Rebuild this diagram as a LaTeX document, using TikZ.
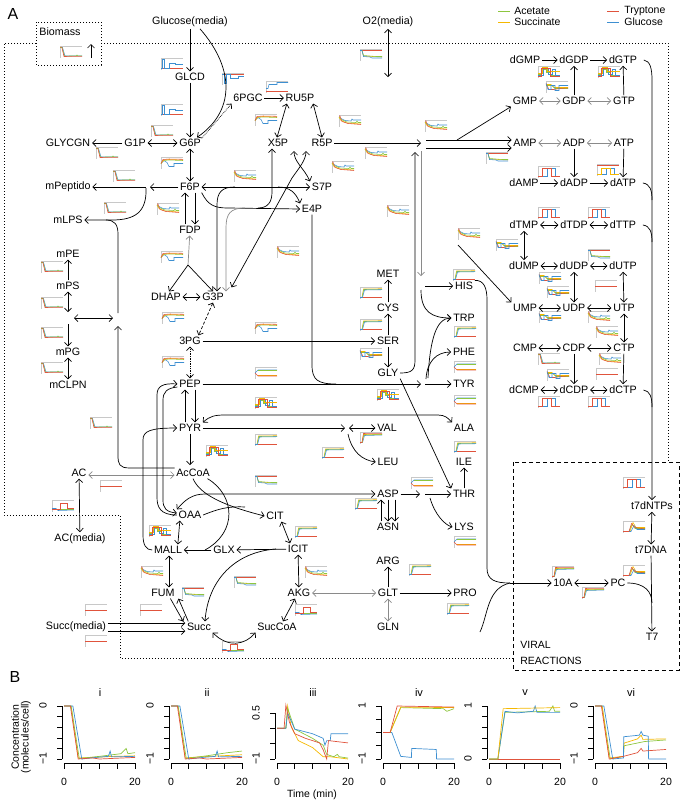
\documentclass[tikz,border=0pt]{standalone}
\usepackage{fontspec}
\setmainfont{Liberation Sans}
\usetikzlibrary{arrows.meta}
\definecolor{cG}{HTML}{8DC63F}
\definecolor{cY}{HTML}{F5B800}
\definecolor{cR}{HTML}{E0533C}
\definecolor{cB}{HTML}{3D8FD1}
\definecolor{fr}{HTML}{C8C8C8}
\definecolor{gar}{HTML}{8A8A8A}
% mini plot types (local frame 22 x 11, y down)
\newcommand{\mptdecay}{%
 \draw[cB] (0,1) -- (2.5,1) -- (5,9.5) -- (22,9.3);
 \draw[cG] (0,1) -- (2,1) -- (4.5,9.6) -- (16,9.4) -- (17,8.5) -- (18,9.4) -- (22,9.4);
 \draw[cR] (0,0.6) -- (1.8,0.6) -- (4,10) -- (22,9.8);}
\newcommand{\mptdecaym}{%
 \draw[cB] (0,1.5) -- (2,3) -- (6,5) -- (12,5.5) -- (13,3.5) -- (14,4.5) -- (22,4.5);
 \draw[cG] (0,1.5) -- (2,4) -- (8,6.5) -- (17,7) -- (18,5.5) -- (19,7) -- (22,7);
 \draw[cY] (0,1.5) -- (2,5) -- (8,7.5) -- (22,8.5);
 \draw[cR] (0,0.5) -- (1,0.5) -- (3,6) -- (9,8) -- (22,9);}
\newcommand{\mptrise}{%
 \draw[cR] (0,10) -- (22,10);
 \draw[cY] (0,10) -- (2,10) -- (3.5,1.5) -- (22,1.2);
 \draw[cG] (0,10) -- (2,10) -- (3.8,2) -- (22,1.8);
 \draw[cB] (0,10) -- (2.5,10) -- (4.5,2.5) -- (22,2.2);}
\newcommand{\mptrisea}{%
 \draw[cB] (0,10) -- (2.5,10) -- (4.5,3) -- (22,2.5);
 \draw[cY] (0,10) -- (2,10) -- (3.5,2) -- (22,1.8);
 \draw[cG] (0,10) -- (2,10) -- (3.8,2.5) -- (22,2);
 \draw[cR] (0,10) -- (2,10) -- (3.5,1) -- (22,1.2);}
\newcommand{\mptpulse}{%
 \draw[cB] (0,10) -- (9,10) -- (9,2) -- (17,2) -- (17,10) -- (22,10);
 \draw[cR] (0,10) -- (4,10) -- (4,2) -- (13,2) -- (13,10) -- (22,10);}
\newcommand{\mptpulsetop}{%
 \draw[cR] (0,1) -- (22,1);
 \draw[cB] (0,10) -- (9,10) -- (9,4) -- (17,4) -- (17,10) -- (22,10);
 \draw[cY] (0,10) -- (4,10) -- (4,4) -- (13,4) -- (13,10) -- (22,10);}
\newcommand{\mptpulsem}{%
 \draw[cG] (0,8) -- (3,8) -- (3,3) -- (8,3) -- (8,6) -- (12,6) -- (12,9) -- (22,9);
 \draw[cB] (0,9) -- (5,9) -- (5,2) -- (10,2) -- (10,8) -- (14,8) -- (14,3) -- (17,3) -- (17,9) -- (22,9);
 \draw[cY] (0,7) -- (4,7) -- (4,1) -- (9,1) -- (9,5) -- (22,5);
 \draw[cR] (0,10) -- (3,10) -- (3,1.5) -- (12,1.5) -- (12,10) -- (22,10);}
\newcommand{\mptpulseone}{%
 \draw[cG] (0,9) -- (22,9);
 \draw[cB] (0,8) -- (4,8) -- (6,10) -- (22,9.5);
 \draw[cR] (0,9) -- (8,9) -- (8,3) -- (15,3) -- (15,8) -- (22,8);}
\newcommand{\mptflat}{\draw[cR] (0,5.5) -- (22,5.5);}
\newcommand{\mptglc}{%
 \draw[cR] (0,10) -- (22,10);
 \draw[cB] (0,10) -- (1.5,10) -- (1.5,1) -- (3.5,1) -- (3.5,10) -- (8,10) -- (8,5) -- (14,5) -- (14,6) -- (22,6);}
\newcommand{\mptbluedn}{%
 \draw[cR] (0,1) -- (22,1);
 \draw[cB] (0,1) -- (2,1) -- (2,10) -- (4,10) -- (4,1) -- (8,1) -- (8,5) -- (16,5) -- (16,3) -- (22,3);}
\newcommand{\mptblue}{%
 \draw[cR] (0,10) -- (22,10);
 \draw[cB] (0,7) -- (2,7) -- (3,3) -- (11,3) -- (11,1) -- (22,1);}
\newcommand{\mptbump}{%
 \draw[cB] (0,6) -- (3,3) -- (6,5) -- (8,9) -- (13,9) -- (13,6) -- (22,6);
 \draw[cG] (0,6) -- (2,3) -- (8,2.5) -- (22,3);
 \draw[cY] (0,6) -- (3,2.5) -- (8,2) -- (22,2.5);
 \draw[cR] (0,6) -- (2,2) -- (8,1.5) -- (22,1.8);}
\newcommand{\mpttop}{%
 \draw[cR] (0,1) -- (22,1);
 \draw[cY] (2,1) -- (3.5,6.5) -- (22,7.5);
 \draw[cG] (2,1) -- (3.5,6) -- (16,7) -- (22,7);
 \draw[cB] (0,1) -- (2,1) -- (3.5,7) -- (10,7.5) -- (12,8.5) -- (22,8.5);}
\newcommand{\mptsplit}{%
 \draw[cB] (0,5.5) -- (3,2.5) -- (22,2.5);
 \draw[cG] (3,3) -- (22,3);
 \draw[cY] (3,7.5) -- (22,7.5);
 \draw[cR] (0,5.5) -- (3,8.5) -- (22,8.5);}
\newcommand{\mptjag}{%
 \draw[cY] (0,3) -- (5,3) -- (8,6) -- (22,6);
 \draw[cG] (0,4) -- (6,4) -- (9,7) -- (22,7);
 \draw[cR] (0,2) -- (3,8) -- (8,8) -- (14,7) -- (22,6.5);
 \draw[cB] (0,2) -- (2,8) -- (5,8) -- (5,4) -- (9,4) -- (9,9) -- (13,9) -- (13,4) -- (22,4);}
\newcommand{\mptspike}{%
 \draw[cG] (0,10) -- (6,10) -- (9,3) -- (12,7) -- (22,7);
 \draw[cY] (0,10) -- (7,10) -- (10,1) -- (13,6) -- (22,6);
 \draw[cB] (0,10) -- (8,10) -- (11,4) -- (14,8) -- (22,8);
 \draw[cR] (0,10) -- (6,10) -- (8.5,2) -- (12,6) -- (22,7.5);}
\newcommand{\mpl}[3]{\begin{scope}[shift={(#1-11,#2-5.5)},line width=0.55pt]
 \draw[fr,line width=0.45pt] (0,11) -- (0,0) -- (22,0);
 \csname mpt#3\endcsname
 \end{scope}}
% panel B axes: #1 axis x, #2 top y, #3 intervals, #4 top label, #5 bottom label, #6 title
\newcommand{\bax}[6]{%
 \draw[line width=0.6pt] (#1,#2) -- (#1,759);
 \foreach \k in {0,...,#3} \draw[line width=0.6pt] (#1,{#2+(759-#2)*\k/#3}) -- (#1-5,{#2+(759-#2)*\k/#3});
 \draw[line width=0.6pt] (#1+2,763) -- (#1+73,763);
 \foreach \k in {0,...,4} \draw[line width=0.6pt] ({#1+2+71*\k/4},763) -- ({#1+2+71*\k/4},769);
 \node[bl] at (#1+2,782) {0}; \node[bl] at (#1+73,782) {20};
 \node[bl,rotate=90] at (#1-19,#2) {#4};
 \node[bl,rotate=90] at (#1-19,759) {#5};
 \node[bt] at (#1+38,693) {#6};}
\begin{document}
\begin{tikzpicture}[x=1pt,y=-1pt,line width=0.7pt,
  nd/.style={font=\fontsize{10.7}{12}\selectfont,inner sep=1.5pt},
  lg/.style={font=\fontsize{10.5}{11}\selectfont,inner sep=0pt,anchor=west},
  bl/.style={font=\fontsize{10.5}{12}\selectfont,inner sep=0pt},
  bt/.style={font=\fontsize{11}{12}\selectfont,inner sep=0pt},
  arr/.style={-{Straight Barb[length=3.5pt,width=7pt]}},
  darr/.style={{Straight Barb[length=3.5pt,width=7pt]}-{Straight Barb[length=3.5pt,width=7pt]}},
  garr/.style={arr,draw=gar},
  gdarr/.style={darr,draw=gar},
  dotb/.style={line width=0.7pt,dash pattern=on 0.8pt off 2.2pt}]
\useasboundingbox (0,0) rectangle (685,804);
% panel labels and legend
\node[font=\fontsize{16}{18}\selectfont] at (13,14) {A};
\node[font=\fontsize{16}{18}\selectfont] at (15,677) {B};
\draw[cG,line width=1pt] (498,11) -- (510,11); \node[lg] at (514,11) {Acetate};
\draw[cY,line width=1pt] (498,22) -- (510,22); \node[lg] at (514,22) {Succinate};
\draw[cR,line width=1pt] (607,11) -- (619,11); \node[lg] at (624,11) {Tryptone};
\draw[cB,line width=1pt] (607,22) -- (619,22); \node[lg] at (624,22) {Glucose};
% boundaries
\draw[dotb] (36,43) -- (4,43) -- (4,515) -- (120,515) -- (120,658) -- (513,658);
\draw[dotb] (101,43) -- (668,43) -- (668,462);
\draw[dotb] (36,22) rectangle (101,65);
\draw[line width=0.9pt,dash pattern=on 4pt off 3pt] (513,462) rectangle (679,670);
\node[lg,font=\fontsize{10.5}{11}\selectfont] at (520,645) {VIRAL};
\node[lg,font=\fontsize{10.5}{11}\selectfont] at (520,661) {REACTIONS};
% mini plots
\mpl{71}{52}{decay}
\mpl{172}{64}{glc}\mpl{172}{110}{glc}\mpl{233}{79}{bluedn}
\mpl{162}{131}{decay}\mpl{107}{153}{decay}\mpl{124}{176}{decay}
\mpl{172}{163}{bump}\mpl{115}{208}{decay}\mpl{168}{209}{decaym}
\mpl{172}{257}{bump}\mpl{52}{267}{decay}\mpl{277}{87}{blue}
\mpl{266}{120}{bump}\mpl{350}{121}{decaym}\mpl{371}{55}{top}
\mpl{376}{153}{decaym}\mpl{343}{167}{decaym}\mpl{245}{176}{decaym}
\mpl{398}{211}{decaym}\mpl{288}{252}{decaym}\mpl{436}{126}{decaym}
\mpl{549}{72}{pulsem}\mpl{609}{72}{pulsem}\mpl{557}{87}{jag}
\mpl{497}{158}{top}\mpl{549}{172}{pulse}\mpl{608}{170}{pulsetop}
\mpl{549}{213}{pulse}\mpl{599}{213}{pulse}\mpl{507}{245}{jag}
\mpl{599}{255}{top}\mpl{469}{234}{decaym}\mpl{550}{278}{jag}
\mpl{558}{292}{jag}\mpl{606}{286}{flat}\mpl{550}{317}{jag}
\mpl{599}{317}{decaym}\mpl{607}{332}{decaym}\mpl{549}{359}{decay}
\mpl{610}{359}{decaym}\mpl{558}{375}{jag}\mpl{607}{374}{flat}
\mpl{549}{402}{pulse}\mpl{599}{402}{pulse}\mpl{634}{483}{pulse}
\mpl{634}{527}{spike}\mpl{464}{275}{rise}\mpl{465}{332}{rise}
\mpl{465}{367}{split}\mpl{465}{401}{split}\mpl{465}{447}{rise}
\mpl{371}{293}{rise}\mpl{371}{325}{rise}\mpl{371}{354}{jag}
\mpl{266}{328}{bump}\mpl{266}{373}{split}\mpl{266}{403}{pulsem}
\mpl{266}{440}{rise}\mpl{371}{438}{risea}\mpl{333}{453}{rise}
\mpl{266}{481}{top}\mpl{366}{504}{rise}\mpl{422}{483}{split}
\mpl{388}{395}{pulsem}\mpl{306}{532}{rise}\mpl{316}{572}{decaym}
\mpl{245}{582}{top}\mpl{306}{610}{pulseone}\mpl{420}{570}{rise}
\mpl{458}{609}{rise}\mpl{233}{647}{pulseone}\mpl{465}{542}{split}
\mpl{563}{572}{risea}\mpl{593}{593}{risea}\mpl{634}{571}{spike}
\mpl{52}{303}{decay}\mpl{52}{333}{decay}\mpl{52}{368}{decay}
\mpl{173}{318}{bump}\mpl{173}{362}{bump}\mpl{101}{423}{decay}
\mpl{217}{451}{pulsem}\mpl{111}{486}{flat}\mpl{63}{506}{pulseone}
\mpl{160}{531}{pulsem}\mpl{152}{572}{decaym}\mpl{193}{593}{top}
\mpl{151}{610}{flat}\mpl{96}{610}{flat}\mpl{96}{641}{flat}
% nodes
\node[nd] at (60,32) {Biomass};
\node[nd] (Glc) at (190,22) {Glucose(media)};
\node[nd] (O2) at (388,22) {O2(media)};
\node[nd] (GLCD) at (190,77) {GLCD};
\node[nd] (G6P) at (190,143) {G6P};
\node[nd] (G1P) at (135,143) {G1P};
\node[nd] (GLYCGN) at (68,143) {GLYCGN};
\node[nd] (PGC) at (248,98) {6PGC};
\node[nd] (RU5P) at (300,98) {RU5P};
\node[nd] (X5P) at (278,143) {X5P};
\node[nd] (R5P) at (322,143) {R5P};
\node[nd] (F6P) at (190,187) {F6P};
\node[nd] (mPep) at (68,187) {mPeptido};
\node[nd] (mLPS) at (68,220) {mLPS};
\node[nd] (S7P) at (322,187) {S7P};
\node[nd] (E4P) at (312,209) {E4P};
\node[nd] (FDP) at (190,230) {FDP};
\node[nd] (mPE) at (68,254) {mPE};
\node[nd] (mPS) at (68,286) {mPS};
\node[nd] (DHAP) at (166,297) {DHAP};
\node[nd] (G3P) at (213,297) {G3P};
\node[nd] (PG3) at (190,341) {3PG};
\node[nd] (mPG) at (68,352) {mPG};
\node[nd] (mCLPN) at (68,385) {mCLPN};
\node[nd] (PEP) at (190,384) {PEP};
\node[nd] (PYR) at (190,428) {PYR};
\node[nd] (AcCoA) at (193,473) {AcCoA};
\node[nd] (AC) at (79,473) {AC};
\node[nd] (OAA) at (190,515) {OAA};
\node[nd] (ACm) at (80,539) {AC(media)};
\node[nd] (MALL) at (168,550) {MALL};
\node[nd] (GLX) at (224,550) {GLX};
\node[nd] (FUM) at (163,593) {FUM};
\node[nd] (Succ) at (199,627) {Succ};
\node[nd] (Succm) at (76,627) {Succ(media)};
\node[nd] (CIT) at (275,516) {CIT};
\node[nd] (ICIT) at (298,549) {ICIT};
\node[nd] (AKG) at (299,593) {AKG};
\node[nd] (SucCoA) at (277,627) {SucCoA};
\node[nd] (MET) at (388,274) {MET};
\node[nd] (CYS) at (388,308) {CYS};
\node[nd] (SER) at (388,341) {SER};
\node[nd] (GLY) at (388,373) {GLY};
\node[nd] (VAL) at (387,428) {VAL};
\node[nd] (LEU) at (388,462) {LEU};
\node[nd] (ASP) at (388,494) {ASP};
\node[nd] (ASN) at (388,527) {ASN};
\node[nd] (ARG) at (388,561) {ARG};
\node[nd] (GLT) at (388,593) {GLT};
\node[nd] (GLN) at (388,627) {GLN};
\node[nd] (PRO) at (465,593) {PRO};
\node[nd] (HIS) at (464,286) {HIS};
\node[nd] (TRP) at (464,318) {TRP};
\node[nd] (PHE) at (464,352) {PHE};
\node[nd] (TYR) at (464,384) {TYR};
\node[nd] (ALA) at (464,428) {ALA};
\node[nd] (ILE) at (464,462) {ILE};
\node[nd] (THR) at (464,494) {THR};
\node[nd] (LYS) at (464,527) {LYS};
\node[nd] (dGMP) at (525,60) {dGMP};
\node[nd] (dGDP) at (574,60) {dGDP};
\node[nd] (dGTP) at (623,60) {dGTP};
\node[nd] (GMP) at (525,101) {GMP};
\node[nd] (GDP) at (574,101) {GDP};
\node[nd] (GTP) at (624,101) {GTP};
\node[nd] (AMP) at (525,143) {AMP};
\node[nd] (ADP) at (574,143) {ADP};
\node[nd] (ATP) at (624,143) {ATP};
\node[nd] (dAMP) at (524,183) {dAMP};
\node[nd] (dADP) at (574,183) {dADP};
\node[nd] (dATP) at (623,183) {dATP};
\node[nd] (dTMP) at (524,225) {dTMP};
\node[nd] (dTDP) at (574,225) {dTDP};
\node[nd] (dTTP) at (623,225) {dTTP};
\node[nd] (dUMP) at (524,266) {dUMP};
\node[nd] (dUDP) at (574,266) {dUDP};
\node[nd] (dUTP) at (623,266) {dUTP};
\node[nd] (UMP) at (525,308) {UMP};
\node[nd] (UDP) at (574,308) {UDP};
\node[nd] (UTP) at (624,308) {UTP};
\node[nd] (CMP) at (525,348) {CMP};
\node[nd] (CDP) at (574,348) {CDP};
\node[nd] (CTP) at (624,348) {CTP};
\node[nd] (dCMP) at (524,390) {dCMP};
\node[nd] (dCDP) at (574,390) {dCDP};
\node[nd] (dCTP) at (623,390) {dCTP};
\node[nd] (t7dNTPs) at (652,506) {t7dNTPs};
\node[nd] (t7DNA) at (651,550) {t7DNA};
\node[nd] (A10) at (563,583) {10A};
\node[nd] (PC) at (618,583) {PC};
\node[nd] (T7) at (652,637) {T7};
% junction / free-end coordinates
\coordinate (bA) at (91,58); \coordinate (bB) at (91,44);
\coordinate (JF) at (188,265);
\coordinate (JR) at (421,143);
\coordinate (JT) at (425,384);
\coordinate (JL) at (68,318);
\coordinate (JV) at (510,583);
\coordinate (Jlow) at (480,632);
\coordinate (Jdiag) at (458,245);
% ---- edges: glycolysis / PPP
\draw[arr] (bA) -- (bB);
\draw[arr] (Glc) -- (GLCD);
\draw[arr] ([xshift=10pt]Glc.south) .. controls (236,70) and (234,112) .. ([xshift=7pt]G6P.north);
\draw[arr] (GLCD) -- (G6P);
\draw[darr] (O2) -- (388,77);
\draw[arr,densely dotted] (G6P.north east) -- (PGC.south west);
\draw[arr] (PGC) -- (RU5P);
\draw[darr] ([xshift=3pt]RU5P.south west) -- ([xshift=-1pt]X5P.north);
\draw[darr] ([xshift=-3pt]RU5P.south east) -- (R5P.north);
\draw[darr] (G6P) -- (G1P);
\draw[arr] (G1P) -- (GLYCGN);
\draw[darr] (G6P) -- (F6P);
\draw[arr] (F6P) -- (150,187);
\draw[arr] (146,187) -- (mPep);
\draw[arr] (146,188) .. controls (147,212) and (135,220) .. (112,220) -- (mLPS);
\draw (118,313) -- (118,234) .. controls (118,224) and (114,220) .. (106,220);
\draw[arr] ([xshift=5pt]F6P.south) -- ([xshift=5pt]FDP.north);
\draw[arr] ([xshift=-5pt]FDP.north) -- ([xshift=-5pt]F6P.south);
\draw[garr] (JF) -- (FDP);
\draw[arr] (JF) -- ([xshift=3pt]DHAP.north);
\draw[arr] (JF) -- (G3P.north);
\draw[darr] (DHAP) -- (G3P);
\draw[darr,densely dashed] (G3P.south) -- ([xshift=-4pt]PG3.north east);
\draw[darr,densely dotted] (PG3) -- (PEP);
\draw[arr] ([xshift=5pt]PEP.south) -- ([xshift=5pt]PYR.north);
\draw[arr] ([xshift=-5pt]PYR.north) -- ([xshift=-5pt]PEP.south);
\draw[arr] (PYR.south) -- (190,465);
% transketolase / transaldolase
\draw[darr] (F6P.east) -- (S7P.west |- F6P.east);
\draw[arr] (278,187) .. controls (290,187) and (296,193) .. (E4P.north west);
\draw[arr] (F6P.south east) .. controls (208,205) and (214,208) .. (228,208) -- (E4P.west);
\draw[arr] (258,208) .. controls (268,208) and (272,202) .. (272,192) -- ([xshift=-6pt]X5P.south);
\draw[arr] (235,187) .. controls (222,187) and (217,192) .. (217,205) -- ([xshift=4pt]G3P.north);
\draw[garr] (245,208) .. controls (230,208) and (226,214) .. (226,228) -- ([xshift=13pt]G3P.north);
\draw[darr] ([xshift=6pt,yshift=4pt]G3P.north east) -- (292,178) .. controls (299,168) and (306,160) .. (306,151);
\draw[darr] (294,151) .. controls (294,162) and (304,168) .. (S7P.north west);
% R5P to nucleotides and amino acids
\draw[arr] (R5P) -- (JR);
\draw[arr] (426,140) -- (AMP.west |- 0,140);
\draw[arr] (426,148) -- (AMP.west |- 0,148);
\draw[arr] (457,140) -- (GMP.south west);
\draw[garr] (421,151) -- (421,276);
\draw[arr] (GLY.east) .. controls (412,373) and (415,370) .. (415,360) -- (415,152);
\draw[arr] (425,286) -- (HIS);
\draw[arr] (421,290) .. controls (421,312) and (432,318) .. (TRP.west);
\draw[arr] (PG3) -- (SER);
\draw[arr] (SER) -- (CYS);
\draw[arr] (CYS) -- (MET);
\draw[arr] (SER) -- (GLY);
\draw[arr] (GLY.south east) -- (THR.north west);
\draw[arr] (PEP) -- (421,384);
\draw (E4P.south) -- (312,365) .. controls (312,380) and (318,384) .. (336,384);
\draw[arr] (JT) -- (TYR);
\draw[arr] (426,379) .. controls (427,362) and (436,352) .. (PHE.west);
\draw[arr] (428,378) .. controls (430,340) and (436,318) .. (TRP.west);
\draw[arr] (PYR) -- (345,428);
\draw[darr] (349,428) -- (VAL);
\draw[arr] (348,434) .. controls (352,452) and (362,460) .. (LEU.west);
\draw[darr] (PYR.north east) .. controls (210,416) and (215,415) .. (225,415) -- (438,415) .. controls (445,415) and (448,418) .. (ALA.north west);
\draw[arr] (THR) -- (ILE);
\draw[arr] (ASP) -- (420,494);
\draw[arr] (425,494) -- (THR);
\draw[arr] (430,498) .. controls (435,515) and (445,525) .. (LYS.west);
\draw[arr] ([xshift=-7pt]ASN.north) -- ([xshift=-7pt]ASP.south);
\draw[arr] ([xshift=0pt]ASP.south) -- ([xshift=0pt]ASN.north);
\draw[arr] ([xshift=7pt]ASP.south) -- ([xshift=7pt]ASN.north);
% lipids and acetate
\draw[arr] (mPS) -- (mPE);
\draw[darr] (mPS) -- (68,312);
\draw[darr] (74,318) -- (113,318);
\draw[arr] (68,324) -- (mPG);
\draw[darr] (mPG) -- (mCLPN);
\draw[arr] (AcCoA.west |- 0,468) -- (130,468) .. controls (119,468) and (118,464) .. (118,455) -- (118,326);
\draw[gdarr] (AC.east |- 0,475) -- (AcCoA.west |- 0,475);
\draw[darr] (AC) -- (ACm);
% TCA
\draw[arr] (OAA.west) .. controls (160,515) and (157,507) .. (157,497) -- (157,395) .. controls (157,386) and (163,383) .. (PEP.west);
\draw[arr] ([yshift=-3pt]PEP.west) .. controls (167,388) and (163,392) .. (163,400) -- (163,500) .. controls (163,508) and (166,512) .. ([yshift=2pt]OAA.west);
\draw[arr] (MALL.west) .. controls (146,550) and (143,545) .. (143,535) -- (143,440) .. controls (143,431) and (150,428) .. (PYR.west);
\draw[arr] (AcCoA.south) .. controls (200,495) and (225,506) .. (CIT.west);
\draw (OAA.east) .. controls (218,509) and (228,506) .. (245,507);
\draw[darr] (ASP.west) -- (205,494) .. controls (192,494) and (185,500) .. (OAA.north west);
\draw ([xshift=-4pt]AcCoA.south east) .. controls (235,495) and (238,532) .. (205,550);
\draw[darr] ([xshift=-6pt]MALL.north east) -- ([xshift=3pt]OAA.south west);
\draw[darr] ([xshift=-4pt]CIT.south east) -- ([xshift=4pt]ICIT.north west);
\draw[arr] (ICIT) -- (GLX);
\draw[arr] (GLX) -- (MALL);
\draw[arr] (276,549) .. controls (235,552) and (208,580) .. ([xshift=6pt]Succ.north);
\draw[darr] (ICIT) -- (AKG);
\draw[gdarr] (AKG) -- (GLT);
\draw[darr] ([xshift=-4pt]AKG.south) -- ([xshift=6pt]SucCoA.north);
\draw[darr] (Succ.south east) .. controls (228,648) and (245,645) .. (SucCoA.south west);
\draw[darr] ([xshift=1pt]MALL.south) -- ([xshift=6pt]FUM.north);
\draw[arr] ([xshift=-6pt]FUM.south east) -- ([xshift=-2pt]Succ.north west);
\draw[arr] ([xshift=3pt]Succ.north west) -- ([xshift=2pt]FUM.south east);
\draw[arr] ([yshift=4pt]Succm.east) -- ([yshift=4pt]Succ.west);
\draw[arr] ([yshift=-4pt]Succm.east) -- ([yshift=-4pt]Succ.west);
\draw[arr] (GLT) -- (ARG);
\draw[gdarr] (GLT) -- (GLN);
\draw[arr] (GLT) -- (PRO);
% nucleotides
\draw[arr] (dGMP) -- (dGDP);
\draw[arr] (dGDP) -- (dGTP);
\draw[arr] (GDP) -- (dGDP);
\draw[arr] (GTP) -- (dGTP);
\draw[gdarr] (GMP) -- (GDP);
\draw[gdarr] (GDP) -- (GTP);
\draw[gdarr] (AMP) -- (ADP);
\draw[gdarr] (ADP) -- (ATP);
\draw[arr] (ADP) -- (dADP);
\draw[arr] (ATP) -- (dATP);
\draw[arr] (dAMP) -- (dADP);
\draw[arr] (dADP) -- (dATP);
\draw[darr] (dTMP) -- (dTDP);
\draw[darr] (dTDP) -- (dTTP);
\draw[darr] (dTMP) -- (dUMP);
\draw[darr] (dUMP) -- (dUDP);
\draw[darr] (dUDP) -- (dUTP);
\draw[darr] (dUDP) -- (UDP);
\draw[darr] (dUTP) -- (UTP);
\draw[darr] (UMP) -- (UDP);
\draw[darr] (UDP) -- (UTP);
\draw[darr] (UTP) -- (CTP);
\draw[darr] (CMP) -- (CDP);
\draw[darr] (CDP) -- (CTP);
\draw[arr] (CDP) -- (dCDP);
\draw[arr] (CTP) -- (dCTP);
\draw[darr] (dCMP) -- (dCDP);
\draw[darr] (dCDP) -- (dCTP);
\draw[arr] (Jdiag) -- (UMP.north west);
\draw[arr] ([xshift=5pt]dGTP.east) .. controls (650,61) and (652,68) .. (652,80) -- (t7dNTPs.north);
\draw ([xshift=5pt]dATP.east) .. controls (650,184) and (652,190) .. (652,200);
\draw ([xshift=5pt]dTTP.east) .. controls (650,226) and (652,232) .. (652,242);
\draw ([xshift=5pt]dCTP.east) .. controls (650,391) and (652,397) .. (652,407);
% viral
\draw (HIS.north east) .. controls (484,280) and (487,288) .. (487,300) -- (487,568) .. controls (487,580) and (495,583) .. (JV);
\draw (Jlow) .. controls (488,615) and (487,588) .. (JV);
\draw[arr] (JV) -- (A10);
\draw[darr] (A10) -- (PC);
\draw[darr] (t7dNTPs) -- (t7DNA);
\draw[arr] (t7DNA) -- (T7);
\draw (PC.east) .. controls (645,583) and (652,592) .. (652,603);
% ---- panel B
\node[bl,rotate=90] at (15,737) {Concentration};
\node[bl,rotate=90] at (26,737) {(molecules/cell)};
\node[bl] at (312,795) {Time (min)};
\bax{62}{706}{5}{0}{−1}{i}
\bax{169}{706}{5}{0}{−1}{ii}
\bax{275}{713}{3}{0.5}{−1}{iii}
\bax{381}{706}{4}{1}{−1}{iv}
\bax{487}{706}{5}{1}{0}{v}
\bax{593}{706}{5}{0}{−1}{vi}
\begin{scope}[shift={(64,759)},x=3.55pt,y=53pt,line width=0.7pt]
 \draw[cY] (0,1)--(2,1)--(4,0.02)--(8,0.03)--(14,0.05)--(20,0.06);
 \draw[cG] (0,1)--(2,1)--(4.3,0.01)--(10,0.05)--(16,0.1)--(17.5,0.2)--(18,0.1)--(20,0.12);
 \draw[cB] (0,1)--(2.5,1)--(5,0)--(9,0.03)--(12.5,0.05)--(13,0.15)--(13.4,0.04)--(20,0.05);
 \draw[cR] (0,1)--(1.8,1)--(4,0)--(8,0.02)--(10,0)--(20,0.03);
\end{scope}
\begin{scope}[shift={(171,759)},x=3.55pt,y=53pt,line width=0.7pt]
 \draw[cY] (0,1)--(2,1)--(4,0.02)--(8,0.04)--(14,0.06)--(20,0.08);
 \draw[cG] (0,1)--(2,1)--(4.3,0.01)--(10,0.06)--(16,0.12)--(20,0.15);
 \draw[cB] (0,1)--(2.5,1)--(5,0)--(9,0.03)--(12.5,0.05)--(13,0.15)--(13.4,0.04)--(20,0.05);
 \draw[cR] (0,1)--(1.8,1)--(4,0)--(8,0.02)--(10,0)--(20,0.03);
\end{scope}
\begin{scope}[shift={(277,759)},x=3.55pt,y=46pt,line width=0.7pt]
 \draw[cY] (0,0.67)--(2.5,0.67)--(3,1.15)--(4,0.7)--(6,0.4)--(10,0.25)--(13,0.05)--(15,0.05)--(20,0.0);
 \draw[cG] (0,0.67)--(2.5,0.67)--(3,1.1)--(5,0.65)--(10,0.45)--(13,0.3)--(14,0.1)--(16,0.05)--(17,0.1)--(17.5,0.05)--(20,0.02);
 \draw[cB] (0,0.67)--(2.5,0.67)--(3,1.0)--(5,0.65)--(10,0.55)--(13,0.45)--(13.5,0.3)--(14,0.4)--(15,0.4)--(15.2,0.55)--(20,0.55);
 \draw[cR] (0,0.67)--(2,0.67)--(2.5,1.17)--(3.5,0.8)--(5,0.55)--(8,0.45)--(12,0.35)--(13,0.2)--(14,0.0)--(14.5,0.4)--(20,0.35);
\end{scope}
\begin{scope}[shift={(383,759)},x=3.55pt,y=53pt,line width=0.7pt]
 \draw[cB] (0,0.5)--(2.5,0.5)--(5,0.05)--(8,0.03)--(8.1,0.2)--(15,0.18)--(15.1,0.0)--(20,0.0);
 \draw[cG] (0,0.5)--(2,0.5)--(5,0.97)--(17,0.95)--(18,0.9)--(20,0.95);
 \draw[cY] (0,0.5)--(2,0.5)--(5,0.98)--(20,0.97);
 \draw[cR] (0,0.5)--(2,0.5)--(4,1)--(20,0.98);
\end{scope}
\begin{scope}[shift={(489,759)},x=3.55pt,y=53pt,line width=0.7pt]
 \draw[cR] (0,0)--(20,0);
 \draw[cG] (0,0)--(2.5,0)--(4.5,0.88)--(17,0.9)--(18,1.0)--(18.5,0.9)--(20,0.9);
 \draw[cB] (0,0)--(2.5,0)--(4.5,0.9)--(8,0.87)--(12.5,0.9)--(13,1.0)--(13.5,0.88)--(20,0.88);
 \draw[cY] (0,0)--(2.5,0)--(4,0.95)--(20,0.97);
\end{scope}
\begin{scope}[shift={(595,759)},x=3.55pt,y=53pt,line width=0.7pt]
 \draw[cG] (0,1)--(2,1)--(4.3,0)--(8,0.05)--(8.2,0.25)--(14,0.33)--(20,0.36);
 \draw[cY] (0,1)--(2,1)--(4,0.02)--(8,0.05)--(8.2,0.3)--(12,0.38)--(13,0.45)--(13.5,0.37)--(20,0.38);
 \draw[cB] (0,1)--(2.5,1)--(5,0)--(8,0.02)--(8.1,0.42)--(12.5,0.45)--(13,0.52)--(13.5,0.45)--(15,0.43)--(15.1,0)--(20,0);
 \draw[cR] (0,1)--(1.8,1)--(4,0)--(8,0.05)--(12,0.12)--(13,0.2)--(13.5,0.15)--(20,0.18);
\end{scope}
\end{tikzpicture}
\end{document}
